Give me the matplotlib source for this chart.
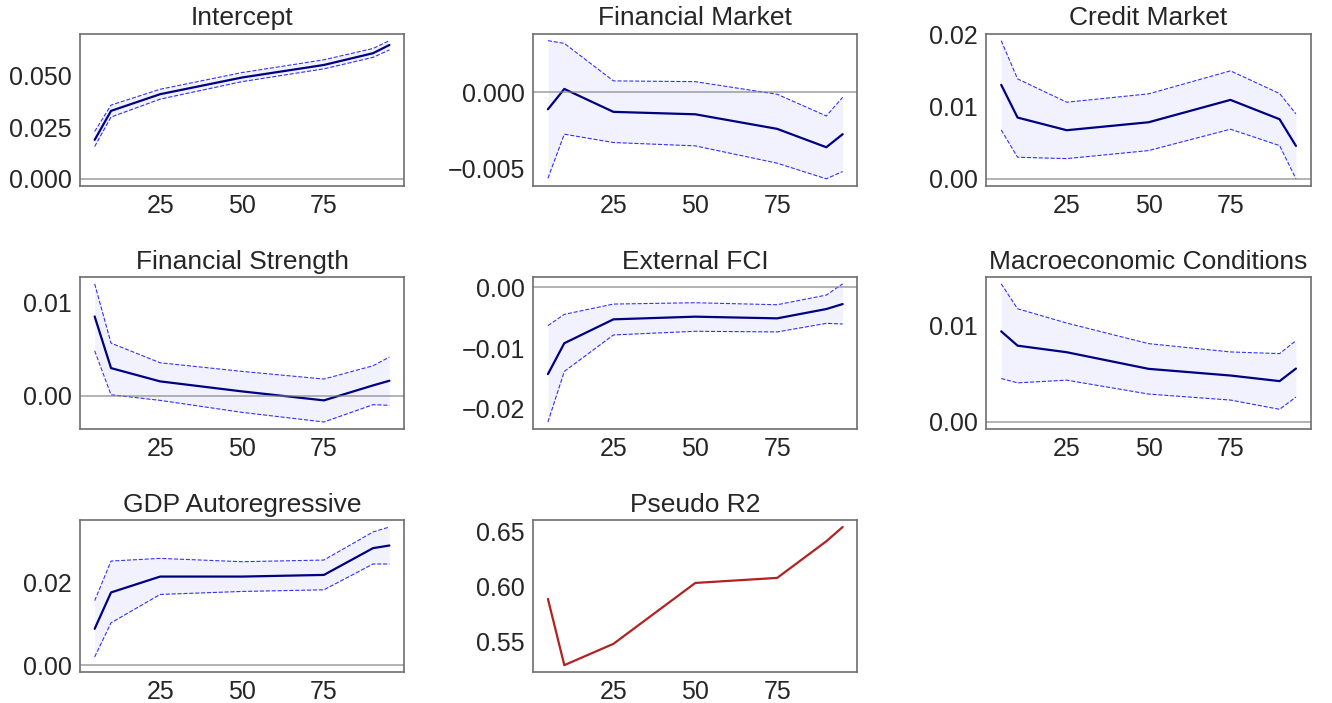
import numpy as np
import matplotlib
matplotlib.use("Agg")
import matplotlib.pyplot as plt
import seaborn as sns

sns.set_style("white")
plt.rcParams['font.family'] = ['Liberation Sans', 'DejaVu Sans']

quantiles = [5, 10, 25, 50, 75, 90, 95]

titles = ["Intercept", "Financial Market", "Credit Market",
          "Financial Strength", "External FCI", "Macroeconomic Conditions",
          "GDP Autoregressive"]

intercept_coef = [0.0189, 0.0330, 0.0411, 0.0492, 0.0553, 0.0610, 0.0650]
intercept_upper = [0.0230, 0.0358, 0.0435, 0.0516, 0.0578, 0.0633, 0.0671]
intercept_lower = [0.0157, 0.0300, 0.0387, 0.0472, 0.0534, 0.0590, 0.0626]

finmkt_coef = [-0.00112, 0.00022, -0.00129, -0.00145, -0.00241, -0.00362, -0.00276]
finmkt_upper = [0.00340, 0.00322, 0.00075, 0.00070, -0.00013, -0.00156, -0.00033]
finmkt_lower = [-0.00566, -0.00276, -0.00331, -0.00353, -0.00467, -0.00570, -0.00522]

credit_coef = [0.01300, 0.00848, 0.00673, 0.00783, 0.01092, 0.00825, 0.00456]
credit_upper = [0.01910, 0.01382, 0.01060, 0.01175, 0.01493, 0.01180, 0.00899]
credit_lower = [0.00677, 0.00300, 0.00281, 0.00392, 0.00687, 0.00461, 0.00002]

strength_coef = [0.00847, 0.00295, 0.00153, 0.00046, -0.00050, 0.00110, 0.00160]
strength_upper = [0.01196, 0.00562, 0.00352, 0.00260, 0.00178, 0.00320, 0.00413]
strength_lower = [0.00480, 0.00010, -0.00050, -0.00178, -0.00281, -0.00096, -0.00103]

extfci_coef = [-0.01430, -0.00920, -0.00526, -0.00482, -0.00510, -0.00356, -0.00274]
extfci_upper = [-0.00630, -0.00444, -0.00274, -0.00252, -0.00285, -0.00126, 0.00060]
extfci_lower = [-0.02220, -0.01386, -0.00784, -0.00723, -0.00734, -0.00592, -0.00603]

macro_coef = [0.00938, 0.00790, 0.00722, 0.00550, 0.00481, 0.00423, 0.00553]
macro_upper = [0.01430, 0.01172, 0.01024, 0.00811, 0.00725, 0.00708, 0.00842]
macro_lower = [0.00450, 0.00405, 0.00433, 0.00289, 0.00227, 0.00131, 0.00258]

gdp_coef = [0.00880, 0.01760, 0.02144, 0.02144, 0.02184, 0.02832, 0.02896]
gdp_upper = [0.01560, 0.02520, 0.02584, 0.02504, 0.02544, 0.03224, 0.03344]
gdp_lower = [0.00200, 0.01024, 0.01712, 0.01784, 0.01824, 0.02448, 0.02448]

pseudo_r2 = [0.5891, 0.5288, 0.5482, 0.6036, 0.6082, 0.6415, 0.6545]

coefs = [intercept_coef, finmkt_coef, credit_coef, strength_coef, extfci_coef, macro_coef, gdp_coef]
uppers = [intercept_upper, finmkt_upper, credit_upper, strength_upper, extfci_upper, macro_upper, gdp_upper]
lowers = [intercept_lower, finmkt_lower, credit_lower, strength_lower, extfci_lower, macro_lower, gdp_lower]

fig, axes = plt.subplots(3, 3, figsize=(13.32, 7.03), dpi=100)
fig.subplots_adjust(left=0.060, right=0.984, bottom=0.044, top=0.952, wspace=0.398, hspace=0.60)
axes = axes.ravel()

for i, title in enumerate(titles):
    ax = axes[i]
    ax.fill_between(quantiles, lowers[i], uppers[i], color="blue", alpha=0.05, linewidth=0)
    ax.plot(quantiles, uppers[i], color="blue", linestyle="--", linewidth=0.8, alpha=0.8)
    ax.plot(quantiles, lowers[i], color="blue", linestyle="--", linewidth=0.8, alpha=0.8)
    ax.plot(quantiles, coefs[i], color="navy", linewidth=1.6)
    ax.axhline(0, color="gray", linewidth=1.2, alpha=0.7)
    ax.set_title(title, fontsize=19, color=".15")

ax = axes[7]
ax.plot(quantiles, pseudo_r2, color="firebrick", linewidth=1.6)
ax.set_title("Pseudo R2", fontsize=19, color=".15")

axes[8].set_visible(False)

for ax in axes[:8]:
    ax.set_xticks([25, 50, 75])
    ax.tick_params(labelsize=18, labelcolor=".15", length=0, pad=6)
    for s in ax.spines.values():
        s.set_color("#6e6e6e")
        s.set_linewidth(1.2)

# y ticks as shown in the reference
axes[0].set_yticks([0.0, 0.025, 0.05])
axes[1].set_yticks([-0.005, 0.0])
axes[2].set_yticks([0.0, 0.01, 0.02])
axes[3].set_yticks([0.0, 0.01])
axes[4].set_yticks([-0.02, -0.01, 0.0])
axes[5].set_yticks([0.0, 0.01])
axes[6].set_yticks([0.0, 0.02])
axes[7].set_yticks([0.55, 0.60, 0.65])
axes[0].set_yticklabels(["0.000", "0.025", "0.050"])
axes[1].set_yticklabels(["\u22120.005", "0.000"])
axes[2].set_yticklabels(["0.00", "0.01", "0.02"])
axes[3].set_yticklabels(["0.00", "0.01"])
axes[4].set_yticklabels(["\u22120.02", "\u22120.01", "0.00"])
axes[5].set_yticklabels(["0.00", "0.01"])
axes[6].set_yticklabels(["0.00", "0.02"])
axes[7].set_yticklabels(["0.55", "0.60", "0.65"])

plt.savefig("out.png", dpi=100)
